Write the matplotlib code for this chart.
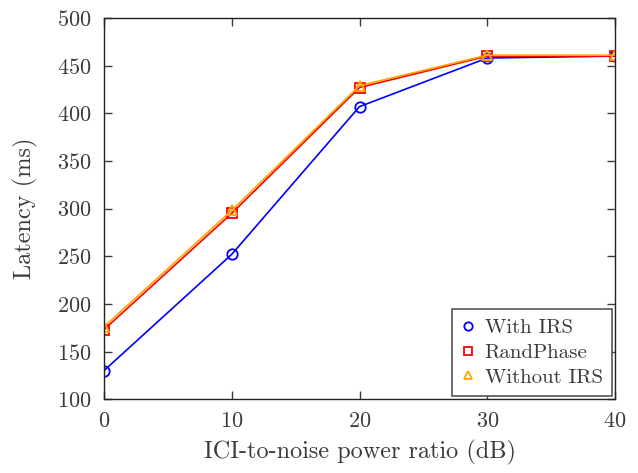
import matplotlib
matplotlib.use("Agg")
import matplotlib.pyplot as plt

# ─── DATA ─────────────────────────────────────────────────────────────────────
snr_db      = [0, 10, 20, 30, 40]
with_irs    = [130, 252, 407, 458, 460]
rand_phase  = [173, 295, 427, 460, 460]
without_irs = [176, 298, 429, 461, 461]

TXT = "#3a3a3a"
plt.rcParams.update({
    "font.family": "cmr10",
    "mathtext.fontset": "cm",
    "axes.formatter.use_mathtext": True,
    "font.size": 16,
    "text.color": TXT,
    "axes.labelcolor": TXT,
    "xtick.color": TXT,
    "ytick.color": TXT,
    "axes.edgecolor": "#222222",
})

fig = plt.figure(figsize=(6.38, 4.73), dpi=100)
ax = fig.add_axes([0.163, 0.156, 0.801, 0.806])

ax.plot(snr_db, with_irs, color="#0000ff", lw=1.2, marker="o", ms=7.5,
        mfc="none", mew=1.3, label="With IRS")
ax.plot(snr_db, rand_phase, color="#ff0000", lw=1.2, marker="s", ms=7.5,
        mfc="none", mew=1.3, label="RandPhase")
ax.plot(snr_db, without_irs, color="#ffa500", lw=1.2, marker="^", ms=7.5,
        mfc="none", mew=1.3, label="Without IRS")

ax.set_xlim(0, 40)
ax.set_ylim(100, 500)
ax.set_xticks([0, 10, 20, 30, 40])
ax.set_yticks(range(100, 501, 50))
ax.tick_params(direction="in", top=True, right=True, length=6, width=1,
               labelsize=16, pad=9)
for s in ax.spines.values():
    s.set_linewidth(1)
ax.set_xlabel("ICI-to-noise power ratio (dB)", fontsize=17.5, labelpad=6)
ax.set_ylabel("Latency (ms)", fontsize=17.5, labelpad=14)

leg = ax.legend(loc="lower right", fancybox=False, framealpha=1,
                edgecolor="#555555", handlelength=0.6, handletextpad=0.5,
                borderaxespad=0.15, fontsize=15, labelspacing=0.3,
                borderpad=0.45)
leg.get_frame().set_linewidth(1.2)
for h in leg.legend_handles:
    h.set_linestyle("none")
    h.set_markersize(6)

fig.savefig("out.png", dpi=100)
